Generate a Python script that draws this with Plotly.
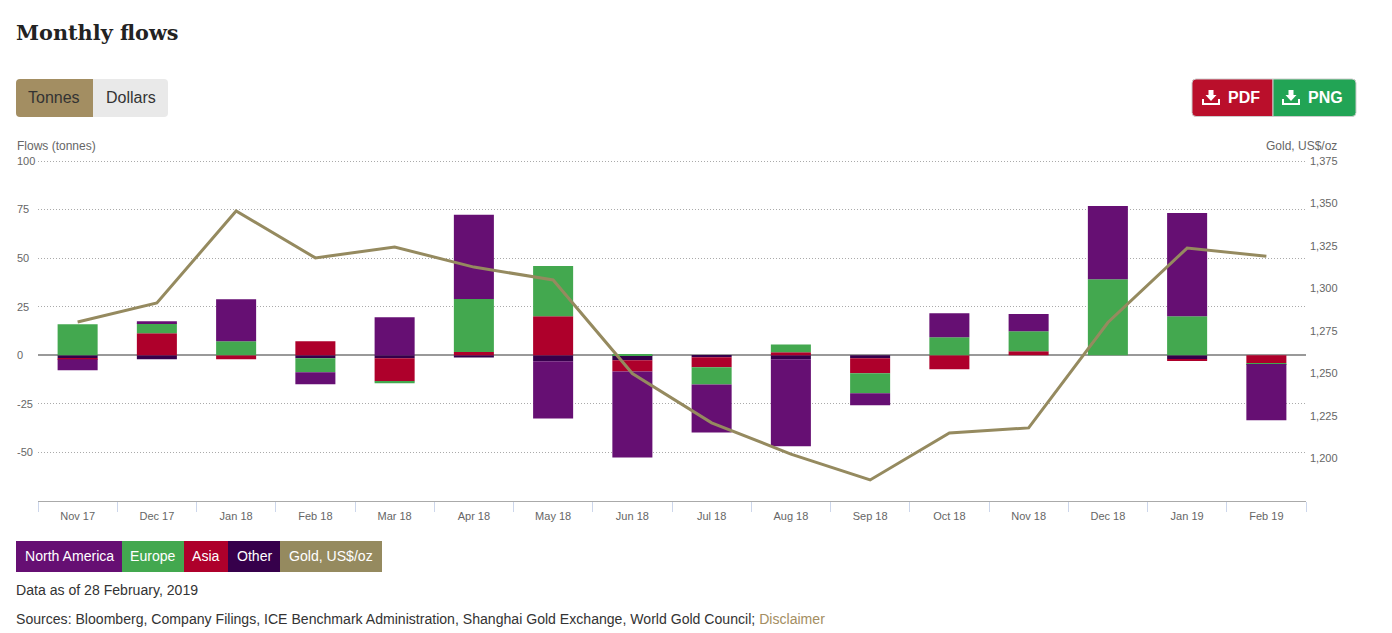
import plotly.graph_objects as go

W = 1392
H = 633

months = ["Nov 17", "Dec 17", "Jan 18", "Feb 18", "Mar 18", "Apr 18", "May 18", "Jun 18",
          "Jul 18", "Aug 18", "Sep 18", "Oct 18", "Nov 18", "Dec 18", "Jan 19", "Feb 19"]

north_america = [-5.7, 1.0, 21.6, -6.2, 19.6, 43.3, -29.4, -44.3, -24.7, -44.8, -6.2, 12.4, 8.8, 37.6, 53.1, -29.0]
europe = [16.0, 5.2, 7.2, -7.2, -1.0, 27.3, 25.8, 0.5, -8.8, 4.1, -10.3, 9.3, 10.3, 39.2, 20.1, -0.4]
asia = [-0.5, 11.3, -2.0, 7.2, -11.9, 1.7, 20.1, -5.7, -5.2, 1.5, -7.7, -7.2, 2.1, 0.0, -0.5, -4.1]
other = [-1.5, -2.0, 0.0, -1.5, -1.5, -1.2, -3.1, -2.6, -1.0, -2.0, -1.5, 0.0, 0.0, 0.0, -2.0, 0.0]
gold = [1280.3, 1291.5, 1345.6, 1318, 1324.4, 1312.6, 1305, 1250, 1221, 1202.6, 1187.4, 1215, 1218, 1280, 1323.8, 1319]

flow_ticks = [-50, -25, 0, 25, 50, 75, 100]
flow_labels = ["-50", "-25", "0", "25", "50", "75", "100"]
gold_ticks = [1200, 1225, 1250, 1275, 1300, 1325, 1350, 1375]

PURPLE = "#660f73"
GREEN = "#43a84f"
RED = "#ae002b"
DARK = "#36004b"
GOLD = "#958a5f"
FONT = "Liberation Sans"


def px(x):
    return x / W


def py(y):
    return 1 - y / H


def rect(x0, y0, x1, y1, color, line=None):
    return dict(type="rect", xref="paper", yref="paper", x0=px(x0), x1=px(x1), y0=py(y0), y1=py(y1),
                fillcolor=color, line=dict(width=1 if line else 0, color=line or color), layer="above")


def rounded(x0, y0, x1, y1, color, left=True, right=True, r=4, line=None):
    # path in paper coordinates, corners only on the outer side of a button group
    rl = r if left else 0
    rr = r if right else 0
    pts = (f"M {px(x0 + rl)} {py(y0)} L {px(x1 - rr)} {py(y0)} "
           f"Q {px(x1)} {py(y0)} {px(x1)} {py(y0 + rr)} L {px(x1)} {py(y1 - rr)} "
           f"Q {px(x1)} {py(y1)} {px(x1 - rr)} {py(y1)} L {px(x0 + rl)} {py(y1)} "
           f"Q {px(x0)} {py(y1)} {px(x0)} {py(y1 - rl)} L {px(x0)} {py(y0 + rl)} "
           f"Q {px(x0)} {py(y0)} {px(x0 + rl)} {py(y0)} Z")
    return dict(type="path", xref="paper", yref="paper", path=pts, fillcolor=color,
                line=dict(width=1 if line else 0, color=line or color), layer="above")


def label(x, y, text, size=14.08, color="#333333", anchor="left", family=FONT):
    return dict(xref="paper", yref="paper", x=px(x), y=py(y), text=text, showarrow=False,
                xanchor=anchor, yanchor="middle", font=dict(family=family, size=size, color=color))


def download_icon(x, y):
    # arrow over a tray, x and y are the top left corner of the glyph
    arrow = (f"M {px(x + 5.5)} {py(y)} L {px(x + 10.5)} {py(y)} L {px(x + 10.5)} {py(y + 5)} "
             f"L {px(x + 13.5)} {py(y + 5)} L {px(x + 8)} {py(y + 11)} L {px(x + 2.5)} {py(y + 5)} "
             f"L {px(x + 5.5)} {py(y + 5)} Z")
    tray = (f"M {px(x)} {py(y + 9)} L {px(x)} {py(y + 14)} L {px(x + 16)} {py(y + 14)} L {px(x + 16)} {py(y + 9)}")
    return [
        dict(type="path", xref="paper", yref="paper", path=arrow, fillcolor="white", line=dict(width=0), layer="above"),
        dict(type="path", xref="paper", yref="paper", path=tray, line=dict(width=2, color="white"), layer="above"),
    ]


fig = go.Figure()
for name, vals, color in [("Other", other, DARK), ("Asia", asia, RED),
                          ("Europe", europe, GREEN), ("North America", north_america, PURPLE)]:
    fig.add_trace(go.Bar(x=months, y=vals, name=name, marker=dict(color=color, line=dict(width=0))))
fig.add_trace(go.Scatter(x=months, y=gold, name="Gold, US$/oz", mode="lines", yaxis="y2",
                         line=dict(color=GOLD, width=3)))

shapes = [
    rounded(16, 79, 93, 117, "#a38e62", right=False),
    rounded(93, 79, 168, 117, "#e9e9e9", left=False),
    rounded(1192, 79, 1273, 116.5, "#ba0f2b", right=False, line="#cccccc"),
    rounded(1273, 79, 1356, 116.5, "#22a455", left=False, line="#cccccc"),
    rect(16, 541, 122, 572, PURPLE),
    rect(122, 541, 184, 572, GREEN),
    rect(184, 541, 228, 572, RED),
    rect(228, 541, 280, 572, DARK),
    rect(280, 541, 382, 572, GOLD),
]
shapes += download_icon(1203, 90)
shapes += download_icon(1283, 90)

annotations = [
    label(14, 33, "<b>Monthly flows</b>", size=20.8, color="#222222", family="DejaVu Serif"),
    label(54.5, 97, "Tonnes", size=16, color="#333333", anchor="center"),
    label(130.5, 97, "Dollars", size=16, color="#333333", anchor="center"),
    label(1226, 97, "<b>PDF</b>", size=16, color="white"),
    label(1306, 97, "<b>PNG</b>", size=16, color="white"),
    label(15, 146, "Flows (tonnes)", size=12, color="#666666"),
    label(1339, 146, "Gold, US$/oz", size=12, color="#666666", anchor="right"),
    label(69, 556, "North America", color="white", anchor="center"),
    label(153, 556, "Europe", color="white", anchor="center"),
    label(206, 556, "Asia", color="white", anchor="center"),
    label(254.5, 556, "Other", color="white", anchor="center"),
    label(331, 556, "Gold, US$/oz", color="white", anchor="center"),
    label(14, 590, "Data as of 28 February, 2019"),
    label(14, 619, 'Sources: Bloomberg, Company Filings, ICE Benchmark Administration, Shanghai Gold Exchange, '
                   'World Gold Council; <span style="color:#a38e62">Disclaimer</span>'),
]

fig.update_layout(
    width=W,
    height=H,
    margin=dict(l=0, r=0, t=0, b=0),
    paper_bgcolor="white",
    plot_bgcolor="white",
    barmode="relative",
    bargap=0.495,
    showlegend=False,
    font=dict(family=FONT, size=11, color="#666666"),
    shapes=shapes,
    annotations=annotations,
    xaxis=dict(
        domain=[px(38), px(1306)],
        range=[-0.5, 15.5],
        anchor="y",
        automargin=False,
        type="category",
        tickson="boundaries",
        ticks="outside",
        ticklen=10,
        tickcolor="#ccd6eb",
        ticklabelstandoff=5,
        showline=True,
        linecolor="#aaaaaa",
        linewidth=1,
        showgrid=False,
        tickfont=dict(size=11, color="#666666"),
    ),
    # tops of both ranges run two pixels past the last tick so its gridline is kept
    yaxis=dict(
        domain=[py(501), py(159)],
        range=[-75, 101.03],
        tickvals=flow_ticks,
        ticktext=flow_labels,
        anchor="free",
        position=px(13),
        automargin=False,
        ticklabelposition="inside",
        ticklabeloverflow="allow",
        showline=False,
        showgrid=True,
        gridcolor="#aaaaaa",
        griddash="1px,2px",
        gridwidth=1,
        zeroline=True,
        zerolinecolor="#999999",
        zerolinewidth=2,
        tickfont=dict(size=11, color="#666666"),
    ),
    yaxis2=dict(
        domain=[py(501), py(159)],
        range=[1175, 1376.18],
        tickvals=gold_ticks,
        tickformat=",",
        overlaying="y",
        side="right",
        anchor="free",
        position=px(1309),
        automargin=False,
        showgrid=False,
        zeroline=False,
        showline=False,
        tickfont=dict(size=11, color="#666666"),
    ),
)

fig.write_html("out.html", config={"displayModeBar": False}, post_script="document.body.style.margin='0';")
